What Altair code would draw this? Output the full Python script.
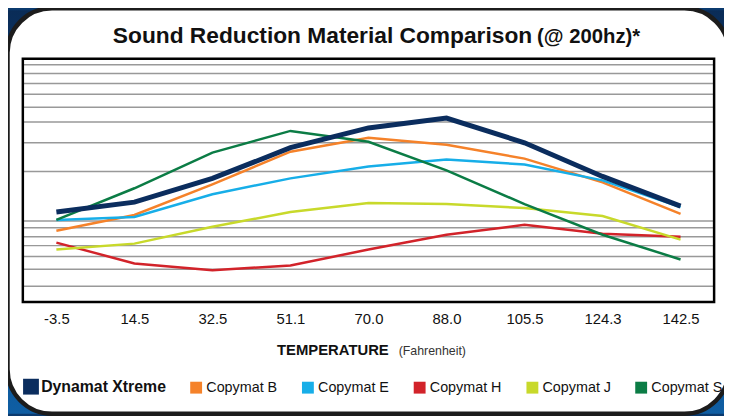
import altair as alt
import pandas as pd

# ---- data ----
temps = ["-3.5", "14.5", "32.5", "51.1", "70.0", "88.0", "105.5", "124.3", "142.5"]
series_names = ["Dynamat Xtreme", "Copymat B", "Copymat E", "Copymat H", "Copymat J", "Copymat S"]
dynamat_xtreme = [91, 101, 125, 156, 176, 186, 161, 127, 97]
copymat_b = [72, 88, 119, 152, 166, 159, 145, 121, 89]
copymat_e = [83, 86, 109, 125, 137, 144, 139, 123, 96]
copymat_h = [60, 39, 32, 37, 53, 68, 78, 69, 66]
copymat_j = [53, 59, 76, 91, 100, 99, 95, 87, 63]
copymat_s = [83, 115, 151, 173, 162, 133, 99, 68, 43]
grid_values = [240, 231, 221, 210, 197, 182, 161, 132, 82, 75, 66, 57, 46, 33, 16]

title_main = "Sound Reduction Material Comparison"
title_suffix = "(@ 200hz)*"
axis_title_main = "TEMPERATURE"
axis_title_suffix = "(Fahrenheit)"

colors = ["#0b2d5e", "#f5822a", "#17aee8", "#d2232a", "#c8d92b", "#0b7c45"]

values = [dynamat_xtreme, copymat_b, copymat_e, copymat_h, copymat_j, copymat_s]
rows = []
for name, vals in zip(series_names, values):
    for t, v in zip(temps, vals):
        rows.append({"series": name, "temp": t, "value": v})
df = pd.DataFrame(rows)
grid_df = pd.DataFrame({"g": grid_values})
one = pd.DataFrame({"k": [0]})

W, H = 699, 246
FONT = "Liberation Sans"

y_scale = alt.Scale(domain=[0, 246], nice=False, zero=False)
color_scale = alt.Scale(domain=series_names, range=colors)

legend = alt.Legend(
    title=None, orient="none", legendX=1, legendY=324, direction="horizontal",
    symbolType="square", symbolStrokeWidth=8,
    symbolSize={"expr": "datum.value === 'Dynamat Xtreme' ? 64 : 16"},
    labelFont=FONT,
    labelFontSize={"expr": "datum.value === 'Dynamat Xtreme' ? 16 : 14.5"},
    labelFontWeight={"expr": "datum.value === 'Dynamat Xtreme' ? 'bold' : 'normal'"},
    labelColor="#111", labelOffset=3, columnPadding=12, padding=0, labelLimit=300,
)

x_enc = alt.X("temp:O", sort=temps, scale=alt.Scale(type="point", padding=0.43),
              axis=alt.Axis(title=None, ticks=False, tickSize=0, domain=False, grid=False,
                            labelAngle=0, labelPadding=10, labelFont=FONT, labelFontSize=15,
                            labelColor="#111", zindex=1))

bg = alt.Chart(one).mark_rect(
    fill=alt.Gradient(gradient="linear",
                      stops=[alt.GradientStop(offset=0, color="#0a2c57"),
                             alt.GradientStop(offset=1, color="#0f5ea3")],
                      x1=0, x2=0, y1=0, y2=1)
).encode(x=alt.value(-15), x2=alt.value(W + 10), y=alt.value(-49), y2=alt.value(H + 113))

panel = alt.Chart(one).mark_rect(
    fill="white", stroke="#1c1c1c", strokeWidth=4.5, cornerRadius=45
).encode(x=alt.value(-15.5), x2=alt.value(714), y=alt.value(-51), y2=alt.value(359))

grid = alt.Chart(grid_df).mark_rule(color="#999999", strokeWidth=1.5).encode(
    y=alt.Y("g:Q", scale=y_scale, axis=None)
)

frame = alt.Chart(one).mark_rect(
    fillOpacity=0, stroke="#000000", strokeWidth=2.5
).encode(x=alt.value(0), x2=alt.value(W), y=alt.value(0), y2=alt.value(H))

others = alt.Chart(df).transform_filter(alt.datum.series != "Dynamat Xtreme").mark_line(
    strokeWidth=2.5
).encode(
    x=x_enc,
    y=alt.Y("value:Q", scale=y_scale, axis=None),
    color=alt.Color("series:N", scale=color_scale, legend=legend),
)

dyn = alt.Chart(df).transform_filter(alt.datum.series == "Dynamat Xtreme").mark_line(
    strokeWidth=5
).encode(
    x=x_enc,
    y=alt.Y("value:Q", scale=y_scale, axis=None),
    color=alt.Color("series:N", scale=color_scale, legend=legend),
)

t1 = alt.Chart(one).mark_text(align="left", baseline="alphabetic", font=FONT, fontSize=23,
                              fontWeight="bold", color="#111").encode(
    x=alt.value(91), y=alt.value(-16), text=alt.value(title_main))
t2 = alt.Chart(one).mark_text(align="left", baseline="alphabetic", font=FONT, fontSize=20.5,
                              fontWeight="bold", color="#111").encode(
    x=alt.value(520), y=alt.value(-16), text=alt.value(title_suffix))
a1 = alt.Chart(one).mark_text(align="left", baseline="alphabetic", font=FONT, fontSize=15,
                              fontWeight="bold", color="#111").encode(
    x=alt.value(257), y=alt.value(300), text=alt.value(axis_title_main))
a2 = alt.Chart(one).mark_text(align="left", baseline="alphabetic", font=FONT, fontSize=12.5,
                              color="#333").encode(
    x=alt.value(380), y=alt.value(300), text=alt.value(axis_title_suffix))

chart = alt.layer(bg, panel, grid, frame, others, dyn, t1, t2, a1, a2).properties(
    width=W, height=H,
    autosize=alt.AutoSizeParams(type="none"),
    padding={"left": 15, "top": 49, "right": 10, "bottom": 113},
).configure_view(stroke=None).configure(background="#0b3a6e")

chart.save("out.html", embed_options={"renderer": "svg", "actions": False})
